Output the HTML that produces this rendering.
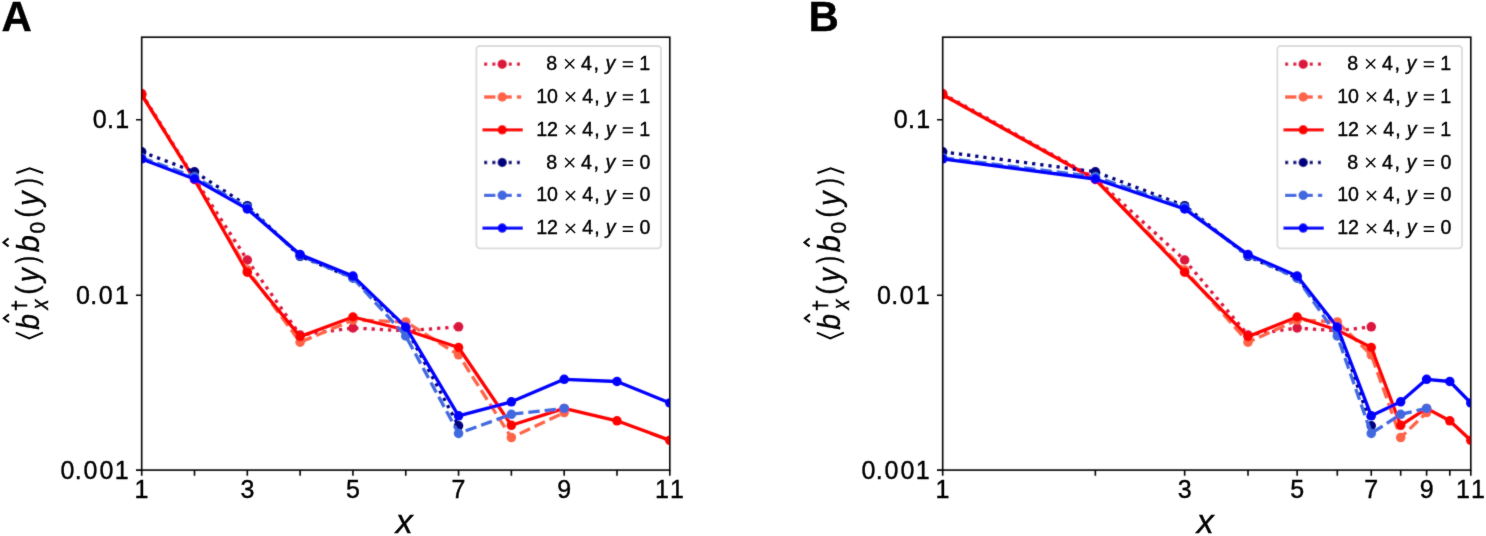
<!DOCTYPE html>
<html><head><meta charset="utf-8"><style>
html,body{margin:0;padding:0;background:#fff;overflow:hidden}
svg{display:block} #w{will-change:transform;width:1486px;height:536px}
text{font-family:"Liberation Sans", sans-serif;stroke:#000;stroke-width:0.4px}
</style></head><body><div id="w">
<svg width="1486" height="536" viewBox="0 0 1486 536" font-family='"Liberation Sans", sans-serif'>
<rect width="1486" height="536" fill="#fff"/>
<defs>
<filter id="bt" x="0" y="0" width="1486" height="536" filterUnits="userSpaceOnUse"><feConvolveMatrix order="3" kernelMatrix="0.02 0.08 0.02 0.08 1 0.08 0.02 0.08 0.02" divisor="1.4" edgeMode="duplicate" preserveAlpha="false"/></filter>
<filter id="bl" x="0" y="0" width="1486" height="536" filterUnits="userSpaceOnUse"><feConvolveMatrix order="3" kernelMatrix="0.04 0.15 0.04 0.15 1 0.15 0.04 0.15 0.04" divisor="1.76" edgeMode="duplicate" preserveAlpha="false"/></filter>
<clipPath id="clipA"><rect x="141.7" y="37.2" width="528.0999999999999" height="432.90000000000003"/></clipPath>
<clipPath id="clipB"><rect x="942.7" y="37.2" width="528.0999999999999" height="432.90000000000003"/></clipPath>
</defs>
<g filter="url(#bl)">
<g clip-path="url(#clipA)" fill="none" stroke-width="3.3" stroke-linejoin="round">
<polyline points="141.70,93.60 194.51,178.40 247.32,260.00 300.13,335.00 352.94,328.00 405.75,330.80 458.56,326.80" stroke="#dc143c" stroke-dasharray="3.2 5.0" stroke-linecap="butt"/>
<circle cx="141.70" cy="93.60" r="4.75" fill="#dc143c" stroke="none"/><circle cx="194.51" cy="178.40" r="4.75" fill="#dc143c" stroke="none"/><circle cx="247.32" cy="260.00" r="4.75" fill="#dc143c" stroke="none"/><circle cx="300.13" cy="335.00" r="4.75" fill="#dc143c" stroke="none"/><circle cx="352.94" cy="328.00" r="4.75" fill="#dc143c" stroke="none"/><circle cx="405.75" cy="330.80" r="4.75" fill="#dc143c" stroke="none"/><circle cx="458.56" cy="326.80" r="4.75" fill="#dc143c" stroke="none"/>
<polyline points="141.70,94.70 194.51,179.50 247.32,270.00 300.13,342.20 352.94,320.00 405.75,321.90 458.56,354.80 511.37,437.60 564.18,412.60" stroke="#ff6347" stroke-dasharray="11.4 5.0" stroke-linecap="butt"/>
<circle cx="141.70" cy="94.70" r="4.75" fill="#ff6347" stroke="none"/><circle cx="194.51" cy="179.50" r="4.75" fill="#ff6347" stroke="none"/><circle cx="247.32" cy="270.00" r="4.75" fill="#ff6347" stroke="none"/><circle cx="300.13" cy="342.20" r="4.75" fill="#ff6347" stroke="none"/><circle cx="352.94" cy="320.00" r="4.75" fill="#ff6347" stroke="none"/><circle cx="405.75" cy="321.90" r="4.75" fill="#ff6347" stroke="none"/><circle cx="458.56" cy="354.80" r="4.75" fill="#ff6347" stroke="none"/><circle cx="511.37" cy="437.60" r="4.75" fill="#ff6347" stroke="none"/><circle cx="564.18" cy="412.60" r="4.75" fill="#ff6347" stroke="none"/>
<polyline points="141.70,94.70 194.51,179.50 247.32,272.20 300.13,336.60 352.94,317.00 405.75,330.00 458.56,347.50 511.37,425.30 564.18,408.40 616.99,420.80 669.80,440.30" stroke="#ff0000" stroke-linecap="square"/>
<circle cx="141.70" cy="94.70" r="4.75" fill="#ff0000" stroke="none"/><circle cx="194.51" cy="179.50" r="4.75" fill="#ff0000" stroke="none"/><circle cx="247.32" cy="272.20" r="4.75" fill="#ff0000" stroke="none"/><circle cx="300.13" cy="336.60" r="4.75" fill="#ff0000" stroke="none"/><circle cx="352.94" cy="317.00" r="4.75" fill="#ff0000" stroke="none"/><circle cx="405.75" cy="330.00" r="4.75" fill="#ff0000" stroke="none"/><circle cx="458.56" cy="347.50" r="4.75" fill="#ff0000" stroke="none"/><circle cx="511.37" cy="425.30" r="4.75" fill="#ff0000" stroke="none"/><circle cx="564.18" cy="408.40" r="4.75" fill="#ff0000" stroke="none"/><circle cx="616.99" cy="420.80" r="4.75" fill="#ff0000" stroke="none"/><circle cx="669.80" cy="440.30" r="4.75" fill="#ff0000" stroke="none"/>
<polyline points="141.70,151.80 194.51,171.80 247.32,205.70 300.13,256.30 352.94,278.00 405.75,327.50 458.56,425.80" stroke="#000080" stroke-dasharray="3.2 5.0" stroke-linecap="butt"/>
<circle cx="141.70" cy="151.80" r="4.75" fill="#000080" stroke="none"/><circle cx="194.51" cy="171.80" r="4.75" fill="#000080" stroke="none"/><circle cx="247.32" cy="205.70" r="4.75" fill="#000080" stroke="none"/><circle cx="300.13" cy="256.30" r="4.75" fill="#000080" stroke="none"/><circle cx="352.94" cy="278.00" r="4.75" fill="#000080" stroke="none"/><circle cx="405.75" cy="327.50" r="4.75" fill="#000080" stroke="none"/><circle cx="458.56" cy="425.80" r="4.75" fill="#000080" stroke="none"/>
<polyline points="141.70,157.80 194.51,176.80 247.32,207.60 300.13,255.50 352.94,278.00 405.75,336.00 458.56,433.40 511.37,414.30 564.18,408.40" stroke="#4169e1" stroke-dasharray="11.4 5.0" stroke-linecap="butt"/>
<circle cx="141.70" cy="157.80" r="4.75" fill="#4169e1" stroke="none"/><circle cx="194.51" cy="176.80" r="4.75" fill="#4169e1" stroke="none"/><circle cx="247.32" cy="207.60" r="4.75" fill="#4169e1" stroke="none"/><circle cx="300.13" cy="255.50" r="4.75" fill="#4169e1" stroke="none"/><circle cx="352.94" cy="278.00" r="4.75" fill="#4169e1" stroke="none"/><circle cx="405.75" cy="336.00" r="4.75" fill="#4169e1" stroke="none"/><circle cx="458.56" cy="433.40" r="4.75" fill="#4169e1" stroke="none"/><circle cx="511.37" cy="414.30" r="4.75" fill="#4169e1" stroke="none"/><circle cx="564.18" cy="408.40" r="4.75" fill="#4169e1" stroke="none"/>
<polyline points="141.70,159.00 194.51,179.00 247.32,208.90 300.13,254.60 352.94,276.10 405.75,327.00 458.56,415.80 511.37,401.80 564.18,379.30 616.99,381.50 669.80,402.90" stroke="#0000ff" stroke-linecap="square"/>
<circle cx="141.70" cy="159.00" r="4.75" fill="#0000ff" stroke="none"/><circle cx="194.51" cy="179.00" r="4.75" fill="#0000ff" stroke="none"/><circle cx="247.32" cy="208.90" r="4.75" fill="#0000ff" stroke="none"/><circle cx="300.13" cy="254.60" r="4.75" fill="#0000ff" stroke="none"/><circle cx="352.94" cy="276.10" r="4.75" fill="#0000ff" stroke="none"/><circle cx="405.75" cy="327.00" r="4.75" fill="#0000ff" stroke="none"/><circle cx="458.56" cy="415.80" r="4.75" fill="#0000ff" stroke="none"/><circle cx="511.37" cy="401.80" r="4.75" fill="#0000ff" stroke="none"/><circle cx="564.18" cy="379.30" r="4.75" fill="#0000ff" stroke="none"/><circle cx="616.99" cy="381.50" r="4.75" fill="#0000ff" stroke="none"/><circle cx="669.80" cy="402.90" r="4.75" fill="#0000ff" stroke="none"/>
</g>
<g clip-path="url(#clipB)" fill="none" stroke-width="3.3" stroke-linejoin="round">
<polyline points="942.70,93.60 1095.36,178.40 1184.65,260.00 1248.01,335.00 1297.15,328.00 1337.31,330.80 1371.26,326.80" stroke="#dc143c" stroke-dasharray="3.2 5.0" stroke-linecap="butt"/>
<circle cx="942.70" cy="93.60" r="4.75" fill="#dc143c" stroke="none"/><circle cx="1095.36" cy="178.40" r="4.75" fill="#dc143c" stroke="none"/><circle cx="1184.65" cy="260.00" r="4.75" fill="#dc143c" stroke="none"/><circle cx="1248.01" cy="335.00" r="4.75" fill="#dc143c" stroke="none"/><circle cx="1297.15" cy="328.00" r="4.75" fill="#dc143c" stroke="none"/><circle cx="1337.31" cy="330.80" r="4.75" fill="#dc143c" stroke="none"/><circle cx="1371.26" cy="326.80" r="4.75" fill="#dc143c" stroke="none"/>
<polyline points="942.70,94.70 1095.36,179.50 1184.65,270.00 1248.01,342.20 1297.15,320.00 1337.31,321.90 1371.26,354.80 1400.67,437.60 1426.61,412.60" stroke="#ff6347" stroke-dasharray="11.4 5.0" stroke-linecap="butt"/>
<circle cx="942.70" cy="94.70" r="4.75" fill="#ff6347" stroke="none"/><circle cx="1095.36" cy="179.50" r="4.75" fill="#ff6347" stroke="none"/><circle cx="1184.65" cy="270.00" r="4.75" fill="#ff6347" stroke="none"/><circle cx="1248.01" cy="342.20" r="4.75" fill="#ff6347" stroke="none"/><circle cx="1297.15" cy="320.00" r="4.75" fill="#ff6347" stroke="none"/><circle cx="1337.31" cy="321.90" r="4.75" fill="#ff6347" stroke="none"/><circle cx="1371.26" cy="354.80" r="4.75" fill="#ff6347" stroke="none"/><circle cx="1400.67" cy="437.60" r="4.75" fill="#ff6347" stroke="none"/><circle cx="1426.61" cy="412.60" r="4.75" fill="#ff6347" stroke="none"/>
<polyline points="942.70,94.70 1095.36,179.50 1184.65,272.20 1248.01,336.60 1297.15,317.00 1337.31,330.00 1371.26,347.50 1400.67,425.30 1426.61,408.40 1449.81,420.80 1470.80,440.30" stroke="#ff0000" stroke-linecap="square"/>
<circle cx="942.70" cy="94.70" r="4.75" fill="#ff0000" stroke="none"/><circle cx="1095.36" cy="179.50" r="4.75" fill="#ff0000" stroke="none"/><circle cx="1184.65" cy="272.20" r="4.75" fill="#ff0000" stroke="none"/><circle cx="1248.01" cy="336.60" r="4.75" fill="#ff0000" stroke="none"/><circle cx="1297.15" cy="317.00" r="4.75" fill="#ff0000" stroke="none"/><circle cx="1337.31" cy="330.00" r="4.75" fill="#ff0000" stroke="none"/><circle cx="1371.26" cy="347.50" r="4.75" fill="#ff0000" stroke="none"/><circle cx="1400.67" cy="425.30" r="4.75" fill="#ff0000" stroke="none"/><circle cx="1426.61" cy="408.40" r="4.75" fill="#ff0000" stroke="none"/><circle cx="1449.81" cy="420.80" r="4.75" fill="#ff0000" stroke="none"/><circle cx="1470.80" cy="440.30" r="4.75" fill="#ff0000" stroke="none"/>
<polyline points="942.70,151.80 1095.36,171.80 1184.65,205.70 1248.01,256.30 1297.15,278.00 1337.31,327.50 1371.26,425.80" stroke="#000080" stroke-dasharray="3.2 5.0" stroke-linecap="butt"/>
<circle cx="942.70" cy="151.80" r="4.75" fill="#000080" stroke="none"/><circle cx="1095.36" cy="171.80" r="4.75" fill="#000080" stroke="none"/><circle cx="1184.65" cy="205.70" r="4.75" fill="#000080" stroke="none"/><circle cx="1248.01" cy="256.30" r="4.75" fill="#000080" stroke="none"/><circle cx="1297.15" cy="278.00" r="4.75" fill="#000080" stroke="none"/><circle cx="1337.31" cy="327.50" r="4.75" fill="#000080" stroke="none"/><circle cx="1371.26" cy="425.80" r="4.75" fill="#000080" stroke="none"/>
<polyline points="942.70,157.80 1095.36,176.80 1184.65,207.60 1248.01,255.50 1297.15,278.00 1337.31,336.00 1371.26,433.40 1400.67,414.30 1426.61,408.40" stroke="#4169e1" stroke-dasharray="11.4 5.0" stroke-linecap="butt"/>
<circle cx="942.70" cy="157.80" r="4.75" fill="#4169e1" stroke="none"/><circle cx="1095.36" cy="176.80" r="4.75" fill="#4169e1" stroke="none"/><circle cx="1184.65" cy="207.60" r="4.75" fill="#4169e1" stroke="none"/><circle cx="1248.01" cy="255.50" r="4.75" fill="#4169e1" stroke="none"/><circle cx="1297.15" cy="278.00" r="4.75" fill="#4169e1" stroke="none"/><circle cx="1337.31" cy="336.00" r="4.75" fill="#4169e1" stroke="none"/><circle cx="1371.26" cy="433.40" r="4.75" fill="#4169e1" stroke="none"/><circle cx="1400.67" cy="414.30" r="4.75" fill="#4169e1" stroke="none"/><circle cx="1426.61" cy="408.40" r="4.75" fill="#4169e1" stroke="none"/>
<polyline points="942.70,159.00 1095.36,179.00 1184.65,208.90 1248.01,254.60 1297.15,276.10 1337.31,327.00 1371.26,415.80 1400.67,401.80 1426.61,379.30 1449.81,381.50 1470.80,402.90" stroke="#0000ff" stroke-linecap="square"/>
<circle cx="942.70" cy="159.00" r="4.75" fill="#0000ff" stroke="none"/><circle cx="1095.36" cy="179.00" r="4.75" fill="#0000ff" stroke="none"/><circle cx="1184.65" cy="208.90" r="4.75" fill="#0000ff" stroke="none"/><circle cx="1248.01" cy="254.60" r="4.75" fill="#0000ff" stroke="none"/><circle cx="1297.15" cy="276.10" r="4.75" fill="#0000ff" stroke="none"/><circle cx="1337.31" cy="327.00" r="4.75" fill="#0000ff" stroke="none"/><circle cx="1371.26" cy="415.80" r="4.75" fill="#0000ff" stroke="none"/><circle cx="1400.67" cy="401.80" r="4.75" fill="#0000ff" stroke="none"/><circle cx="1426.61" cy="379.30" r="4.75" fill="#0000ff" stroke="none"/><circle cx="1449.81" cy="381.50" r="4.75" fill="#0000ff" stroke="none"/><circle cx="1470.80" cy="402.90" r="4.75" fill="#0000ff" stroke="none"/>
</g>
<rect x="141.7" y="37.2" width="528.10" height="432.90" fill="none" stroke="#000" stroke-width="1.6" stroke-linejoin="miter"/>
<path d="M141.70,470.1v5.7 M194.51,470.1v5.7 M247.32,470.1v5.7 M300.13,470.1v5.7 M352.94,470.1v5.7 M405.75,470.1v5.7 M458.56,470.1v5.7 M511.37,470.1v5.7 M564.18,470.1v5.7 M616.99,470.1v5.7 M669.80,470.1v5.7 M141.7,119.8h-5.7 M141.7,295.2h-5.7 M141.7,470.1h-5.7" stroke="#000" stroke-width="1.6" fill="none"/>
<rect x="942.7" y="37.2" width="528.10" height="432.90" fill="none" stroke="#000" stroke-width="1.6" stroke-linejoin="miter"/>
<path d="M942.70,470.1v5.7 M1095.36,470.1v5.7 M1184.65,470.1v5.7 M1248.01,470.1v5.7 M1297.15,470.1v5.7 M1337.31,470.1v5.7 M1371.26,470.1v5.7 M1400.67,470.1v5.7 M1426.61,470.1v5.7 M1449.81,470.1v5.7 M1470.80,470.1v5.7 M942.7,119.8h-5.7 M942.7,295.2h-5.7 M942.7,470.1h-5.7" stroke="#000" stroke-width="1.6" fill="none"/>
<rect x="476.4" y="46.0" width="184.6" height="202.4" rx="3.3" ry="3.3" fill="#fff" fill-opacity="0.8" stroke="#dcdcdc" stroke-width="1.8"/>
<line x1="484.05" y1="64.2" x2="521.25" y2="64.2" stroke="#dc143c" stroke-width="3.3" stroke-dasharray="3.2 5.0" stroke-linecap="butt"/>
<circle cx="502.2" cy="64.2" r="4.75" fill="#dc143c"/>
<line x1="484.05" y1="97.0" x2="521.25" y2="97.0" stroke="#ff6347" stroke-width="3.3" stroke-dasharray="11.4 5.0" stroke-linecap="butt"/>
<circle cx="502.2" cy="97.0" r="4.75" fill="#ff6347"/>
<line x1="484.05" y1="129.8" x2="521.25" y2="129.8" stroke="#ff0000" stroke-width="3.3" stroke-linecap="square"/>
<circle cx="502.2" cy="129.8" r="4.75" fill="#ff0000"/>
<line x1="484.05" y1="162.5" x2="521.25" y2="162.5" stroke="#000080" stroke-width="3.3" stroke-dasharray="3.2 5.0" stroke-linecap="butt"/>
<circle cx="502.2" cy="162.5" r="4.75" fill="#000080"/>
<line x1="484.05" y1="195.3" x2="521.25" y2="195.3" stroke="#4169e1" stroke-width="3.3" stroke-dasharray="11.4 5.0" stroke-linecap="butt"/>
<circle cx="502.2" cy="195.3" r="4.75" fill="#4169e1"/>
<line x1="484.05" y1="228.1" x2="521.25" y2="228.1" stroke="#0000ff" stroke-width="3.3" stroke-linecap="square"/>
<circle cx="502.2" cy="228.1" r="4.75" fill="#0000ff"/>
<rect x="1277.4" y="46.0" width="184.6" height="202.4" rx="3.3" ry="3.3" fill="#fff" fill-opacity="0.8" stroke="#dcdcdc" stroke-width="1.8"/>
<line x1="1285.05" y1="64.2" x2="1322.25" y2="64.2" stroke="#dc143c" stroke-width="3.3" stroke-dasharray="3.2 5.0" stroke-linecap="butt"/>
<circle cx="1303.2" cy="64.2" r="4.75" fill="#dc143c"/>
<line x1="1285.05" y1="97.0" x2="1322.25" y2="97.0" stroke="#ff6347" stroke-width="3.3" stroke-dasharray="11.4 5.0" stroke-linecap="butt"/>
<circle cx="1303.2" cy="97.0" r="4.75" fill="#ff6347"/>
<line x1="1285.05" y1="129.8" x2="1322.25" y2="129.8" stroke="#ff0000" stroke-width="3.3" stroke-linecap="square"/>
<circle cx="1303.2" cy="129.8" r="4.75" fill="#ff0000"/>
<line x1="1285.05" y1="162.5" x2="1322.25" y2="162.5" stroke="#000080" stroke-width="3.3" stroke-dasharray="3.2 5.0" stroke-linecap="butt"/>
<circle cx="1303.2" cy="162.5" r="4.75" fill="#000080"/>
<line x1="1285.05" y1="195.3" x2="1322.25" y2="195.3" stroke="#4169e1" stroke-width="3.3" stroke-dasharray="11.4 5.0" stroke-linecap="butt"/>
<circle cx="1303.2" cy="195.3" r="4.75" fill="#4169e1"/>
<line x1="1285.05" y1="228.1" x2="1322.25" y2="228.1" stroke="#0000ff" stroke-width="3.3" stroke-linecap="square"/>
<circle cx="1303.2" cy="228.1" r="4.75" fill="#0000ff"/>
</g>
<g filter="url(#bt)">
<text x="92.85" y="127.80" font-size="25" fill="#000">0</text><text x="107.08" y="127.80" font-size="25" fill="#000">.</text><text x="115.26" y="127.80" font-size="25" fill="#000">1</text>
<text x="75.95" y="303.70" font-size="25" fill="#000">0</text><text x="90.18" y="303.70" font-size="25" fill="#000">.</text><text x="98.80" y="303.70" font-size="25" fill="#000">0</text><text x="114.66" y="303.70" font-size="25" fill="#000">1</text>
<text x="60.55" y="478.50" font-size="25" fill="#000">0</text><text x="74.78" y="478.50" font-size="25" fill="#000">.</text><text x="83.45" y="478.50" font-size="25" fill="#000">0</text><text x="99.50" y="478.50" font-size="25" fill="#000">0</text><text x="114.81" y="478.50" font-size="25" fill="#000">1</text>
<text x="893.85" y="127.80" font-size="25" fill="#000">0</text><text x="908.08" y="127.80" font-size="25" fill="#000">.</text><text x="916.26" y="127.80" font-size="25" fill="#000">1</text>
<text x="876.95" y="303.70" font-size="25" fill="#000">0</text><text x="891.18" y="303.70" font-size="25" fill="#000">.</text><text x="899.80" y="303.70" font-size="25" fill="#000">0</text><text x="915.66" y="303.70" font-size="25" fill="#000">1</text>
<text x="861.55" y="478.50" font-size="25" fill="#000">0</text><text x="875.78" y="478.50" font-size="25" fill="#000">.</text><text x="884.45" y="478.50" font-size="25" fill="#000">0</text><text x="900.50" y="478.50" font-size="25" fill="#000">0</text><text x="915.81" y="478.50" font-size="25" fill="#000">1</text>
<text x="134.41" y="497.60" font-size="25" fill="#000">1</text>
<text x="240.44" y="497.60" font-size="25" fill="#000">3</text>
<text x="346.01" y="497.60" font-size="25" fill="#000">5</text>
<text x="451.60" y="497.60" font-size="25" fill="#000">7</text>
<text x="557.23" y="497.60" font-size="25" fill="#000">9</text>
<text x="654.96" y="497.60" font-size="25" fill="#000">1</text><text x="670.06" y="497.60" font-size="25" fill="#000">1</text>
<text x="935.41" y="497.60" font-size="25" fill="#000">1</text>
<text x="1177.77" y="497.60" font-size="25" fill="#000">3</text>
<text x="1290.23" y="497.60" font-size="25" fill="#000">5</text>
<text x="1364.29" y="497.60" font-size="25" fill="#000">7</text>
<text x="1419.66" y="497.60" font-size="25" fill="#000">9</text>
<text x="1455.96" y="497.60" font-size="25" fill="#000">1</text><text x="1471.06" y="497.60" font-size="25" fill="#000">1</text>
<text x="395.83" y="533.00" font-size="34" font-style="italic" fill="#000">x</text>
<text x="1196.83" y="533.00" font-size="34" font-style="italic" fill="#000">x</text>
<text x="1.55" y="31.30" font-size="42" font-weight="bold" fill="#000">A</text>
<text x="808.59" y="31.30" font-size="42" font-weight="bold" fill="#000">B</text>
<text x="546.15" y="69.80" font-size="19.6" fill="#000">8</text>
<path d="M565.10,59.30L574.30,68.50M565.10,68.50L574.30,59.30" stroke="#000" stroke-width="1.45" fill="none"/>
<text x="581.01" y="69.80" font-size="19.6" fill="#000">4</text>
<text x="593.38" y="69.80" font-size="19.6" fill="#000">,</text>
<text x="605.46" y="69.80" font-size="19.6" font-style="italic" fill="#000">y</text>
<path d="M622.70,62.10H633.10M622.70,66.60H633.10" stroke="#000" stroke-width="1.5" fill="none"/>
<text x="639.28" y="69.80" font-size="19.6" fill="#000">1</text>
<text x="536.18" y="102.72" font-size="19.6" fill="#000">1</text>
<text x="546.95" y="102.72" font-size="19.6" fill="#000">0</text>
<path d="M565.90,92.22L575.10,101.42M565.90,101.42L575.10,92.22" stroke="#000" stroke-width="1.45" fill="none"/>
<text x="582.31" y="102.72" font-size="19.6" fill="#000">4</text>
<text x="594.18" y="102.72" font-size="19.6" fill="#000">,</text>
<text x="605.86" y="102.72" font-size="19.6" font-style="italic" fill="#000">y</text>
<path d="M622.70,95.02H633.10M622.70,99.52H633.10" stroke="#000" stroke-width="1.5" fill="none"/>
<text x="639.28" y="102.72" font-size="19.6" fill="#000">1</text>
<text x="536.18" y="135.64" font-size="19.6" fill="#000">1</text>
<text x="546.95" y="135.64" font-size="19.6" fill="#000">2</text>
<path d="M565.90,125.14L575.10,134.34M565.90,134.34L575.10,125.14" stroke="#000" stroke-width="1.45" fill="none"/>
<text x="582.31" y="135.64" font-size="19.6" fill="#000">4</text>
<text x="594.18" y="135.64" font-size="19.6" fill="#000">,</text>
<text x="605.86" y="135.64" font-size="19.6" font-style="italic" fill="#000">y</text>
<path d="M622.70,127.94H633.10M622.70,132.44H633.10" stroke="#000" stroke-width="1.5" fill="none"/>
<text x="639.28" y="135.64" font-size="19.6" fill="#000">1</text>
<text x="546.15" y="168.56" font-size="19.6" fill="#000">8</text>
<path d="M565.10,158.06L574.30,167.26M565.10,167.26L574.30,158.06" stroke="#000" stroke-width="1.45" fill="none"/>
<text x="581.01" y="168.56" font-size="19.6" fill="#000">4</text>
<text x="593.38" y="168.56" font-size="19.6" fill="#000">,</text>
<text x="605.46" y="168.56" font-size="19.6" font-style="italic" fill="#000">y</text>
<path d="M622.70,160.86H633.10M622.70,165.36H633.10" stroke="#000" stroke-width="1.5" fill="none"/>
<text x="639.55" y="168.56" font-size="19.6" fill="#000">0</text>
<text x="536.18" y="201.48" font-size="19.6" fill="#000">1</text>
<text x="546.95" y="201.48" font-size="19.6" fill="#000">0</text>
<path d="M565.90,190.98L575.10,200.18M565.90,200.18L575.10,190.98" stroke="#000" stroke-width="1.45" fill="none"/>
<text x="582.31" y="201.48" font-size="19.6" fill="#000">4</text>
<text x="594.18" y="201.48" font-size="19.6" fill="#000">,</text>
<text x="605.86" y="201.48" font-size="19.6" font-style="italic" fill="#000">y</text>
<path d="M622.70,193.78H633.10M622.70,198.28H633.10" stroke="#000" stroke-width="1.5" fill="none"/>
<text x="639.55" y="201.48" font-size="19.6" fill="#000">0</text>
<text x="536.18" y="234.40" font-size="19.6" fill="#000">1</text>
<text x="546.95" y="234.40" font-size="19.6" fill="#000">2</text>
<path d="M565.90,223.90L575.10,233.10M565.90,233.10L575.10,223.90" stroke="#000" stroke-width="1.45" fill="none"/>
<text x="582.31" y="234.40" font-size="19.6" fill="#000">4</text>
<text x="594.18" y="234.40" font-size="19.6" fill="#000">,</text>
<text x="605.86" y="234.40" font-size="19.6" font-style="italic" fill="#000">y</text>
<path d="M622.70,226.70H633.10M622.70,231.20H633.10" stroke="#000" stroke-width="1.5" fill="none"/>
<text x="639.55" y="234.40" font-size="19.6" fill="#000">0</text>
<text x="1347.15" y="69.80" font-size="19.6" fill="#000">8</text>
<path d="M1366.10,59.30L1375.30,68.50M1366.10,68.50L1375.30,59.30" stroke="#000" stroke-width="1.45" fill="none"/>
<text x="1382.01" y="69.80" font-size="19.6" fill="#000">4</text>
<text x="1394.38" y="69.80" font-size="19.6" fill="#000">,</text>
<text x="1406.46" y="69.80" font-size="19.6" font-style="italic" fill="#000">y</text>
<path d="M1423.70,62.10H1434.10M1423.70,66.60H1434.10" stroke="#000" stroke-width="1.5" fill="none"/>
<text x="1440.28" y="69.80" font-size="19.6" fill="#000">1</text>
<text x="1337.18" y="102.72" font-size="19.6" fill="#000">1</text>
<text x="1347.95" y="102.72" font-size="19.6" fill="#000">0</text>
<path d="M1366.90,92.22L1376.10,101.42M1366.90,101.42L1376.10,92.22" stroke="#000" stroke-width="1.45" fill="none"/>
<text x="1383.31" y="102.72" font-size="19.6" fill="#000">4</text>
<text x="1395.18" y="102.72" font-size="19.6" fill="#000">,</text>
<text x="1406.86" y="102.72" font-size="19.6" font-style="italic" fill="#000">y</text>
<path d="M1423.70,95.02H1434.10M1423.70,99.52H1434.10" stroke="#000" stroke-width="1.5" fill="none"/>
<text x="1440.28" y="102.72" font-size="19.6" fill="#000">1</text>
<text x="1337.18" y="135.64" font-size="19.6" fill="#000">1</text>
<text x="1347.95" y="135.64" font-size="19.6" fill="#000">2</text>
<path d="M1366.90,125.14L1376.10,134.34M1366.90,134.34L1376.10,125.14" stroke="#000" stroke-width="1.45" fill="none"/>
<text x="1383.31" y="135.64" font-size="19.6" fill="#000">4</text>
<text x="1395.18" y="135.64" font-size="19.6" fill="#000">,</text>
<text x="1406.86" y="135.64" font-size="19.6" font-style="italic" fill="#000">y</text>
<path d="M1423.70,127.94H1434.10M1423.70,132.44H1434.10" stroke="#000" stroke-width="1.5" fill="none"/>
<text x="1440.28" y="135.64" font-size="19.6" fill="#000">1</text>
<text x="1347.15" y="168.56" font-size="19.6" fill="#000">8</text>
<path d="M1366.10,158.06L1375.30,167.26M1366.10,167.26L1375.30,158.06" stroke="#000" stroke-width="1.45" fill="none"/>
<text x="1382.01" y="168.56" font-size="19.6" fill="#000">4</text>
<text x="1394.38" y="168.56" font-size="19.6" fill="#000">,</text>
<text x="1406.46" y="168.56" font-size="19.6" font-style="italic" fill="#000">y</text>
<path d="M1423.70,160.86H1434.10M1423.70,165.36H1434.10" stroke="#000" stroke-width="1.5" fill="none"/>
<text x="1440.55" y="168.56" font-size="19.6" fill="#000">0</text>
<text x="1337.18" y="201.48" font-size="19.6" fill="#000">1</text>
<text x="1347.95" y="201.48" font-size="19.6" fill="#000">0</text>
<path d="M1366.90,190.98L1376.10,200.18M1366.90,200.18L1376.10,190.98" stroke="#000" stroke-width="1.45" fill="none"/>
<text x="1383.31" y="201.48" font-size="19.6" fill="#000">4</text>
<text x="1395.18" y="201.48" font-size="19.6" fill="#000">,</text>
<text x="1406.86" y="201.48" font-size="19.6" font-style="italic" fill="#000">y</text>
<path d="M1423.70,193.78H1434.10M1423.70,198.28H1434.10" stroke="#000" stroke-width="1.5" fill="none"/>
<text x="1440.55" y="201.48" font-size="19.6" fill="#000">0</text>
<text x="1337.18" y="234.40" font-size="19.6" fill="#000">1</text>
<text x="1347.95" y="234.40" font-size="19.6" fill="#000">2</text>
<path d="M1366.90,223.90L1376.10,233.10M1366.90,233.10L1376.10,223.90" stroke="#000" stroke-width="1.45" fill="none"/>
<text x="1383.31" y="234.40" font-size="19.6" fill="#000">4</text>
<text x="1395.18" y="234.40" font-size="19.6" fill="#000">,</text>
<text x="1406.86" y="234.40" font-size="19.6" font-style="italic" fill="#000">y</text>
<path d="M1423.70,226.70H1434.10M1423.70,231.20H1434.10" stroke="#000" stroke-width="1.5" fill="none"/>
<text x="1440.55" y="234.40" font-size="19.6" fill="#000">0</text>
<g transform="translate(38.6,340) rotate(-90)">
<text transform="translate(10.20,0.00) scale(0.880,1)" font-size="32" font-style="italic">b</text>
<text transform="translate(30.39,9.30) scale(0.863,1)" font-size="23" font-style="italic">x</text>
<text transform="translate(45.29,-1.80) scale(0.918,1)" font-size="30">(</text>
<text transform="translate(58.08,0.00) scale(0.870,1)" font-size="32" font-style="italic">y</text>
<text transform="translate(76.87,-1.80) scale(0.729,1)" font-size="30">)</text>
<text transform="translate(87.87,0.00) scale(0.960,1)" font-size="32" font-style="italic">b</text>
<text transform="translate(106.58,5.90) scale(0.951,1)" font-size="22">0</text>
<text transform="translate(122.36,-1.80) scale(0.880,1)" font-size="30">(</text>
<text transform="translate(134.31,0.00) scale(0.891,1)" font-size="32" font-style="italic">y</text>
<text transform="translate(154.17,-1.80) scale(0.754,1)" font-size="30">)</text>
</g>
<g fill="none" stroke="#000" stroke-width="2.0" stroke-linejoin="miter" stroke-linecap="butt">
<polyline points="15.8,332.6 29.3,338.3 42.9,332.6"/>
<polyline points="16.4,173.0 29.7,168.2 43.2,173.0"/>
<polyline points="9.0,314.4 3.9,318.3 9.0,322.2"/>
<polyline points="8.6,238.4 3.5,242.4 8.6,246.4"/>
<path d="M11.4,305.5H27.3M15.8,300.8V310.3"/>
</g>
<g transform="translate(839.6,340) rotate(-90)">
<text transform="translate(10.20,0.00) scale(0.880,1)" font-size="32" font-style="italic">b</text>
<text transform="translate(30.39,9.30) scale(0.863,1)" font-size="23" font-style="italic">x</text>
<text transform="translate(45.29,-1.80) scale(0.918,1)" font-size="30">(</text>
<text transform="translate(58.08,0.00) scale(0.870,1)" font-size="32" font-style="italic">y</text>
<text transform="translate(76.87,-1.80) scale(0.729,1)" font-size="30">)</text>
<text transform="translate(87.87,0.00) scale(0.960,1)" font-size="32" font-style="italic">b</text>
<text transform="translate(106.58,5.90) scale(0.951,1)" font-size="22">0</text>
<text transform="translate(122.36,-1.80) scale(0.880,1)" font-size="30">(</text>
<text transform="translate(134.31,0.00) scale(0.891,1)" font-size="32" font-style="italic">y</text>
<text transform="translate(154.17,-1.80) scale(0.754,1)" font-size="30">)</text>
</g>
<g fill="none" stroke="#000" stroke-width="2.0" stroke-linejoin="miter" stroke-linecap="butt">
<polyline points="816.8,332.6 830.3,338.3 843.9,332.6"/>
<polyline points="817.4,173.0 830.7,168.2 844.2,173.0"/>
<polyline points="810.0,314.4 804.9,318.3 810.0,322.2"/>
<polyline points="809.6,238.4 804.5,242.4 809.6,246.4"/>
<path d="M812.4,305.5H828.3M816.8,300.8V310.3"/>
</g>
</g>
</svg>
</div></body></html>
